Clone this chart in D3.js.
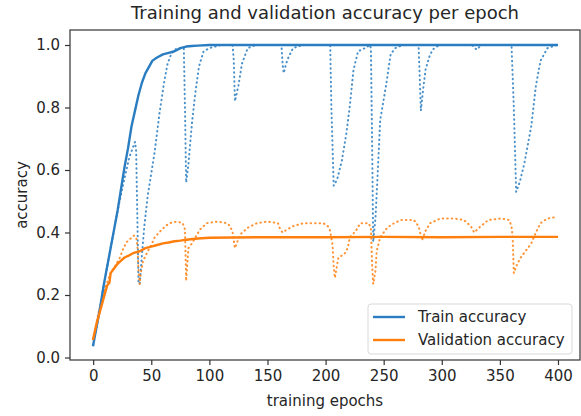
<!DOCTYPE html>
<html>
<head>
<meta charset="utf-8">
<script src="https://cdn.jsdelivr.net/npm/d3@7"></script>
<style>
  body { margin: 0; background: #fff; }
  text { font-family: "DejaVu Sans", sans-serif; fill: #262626; }
</style>
</head>
<body>
<div id="vis"></div>
<script>
// smoothed train accuracy (solid blue)
const trainEpochs = [0, 3, 6, 9, 12, 15, 18, 21, 24, 27, 30, 33, 36, 39, 42, 45, 48, 51, 55, 60, 65, 70, 75, 80, 85, 90, 100, 120, 150, 200, 250, 300, 350, 399];
const trainAcc = [0.04, 0.10, 0.16, 0.23, 0.29, 0.35, 0.41, 0.47, 0.54, 0.61, 0.67, 0.74, 0.79, 0.84, 0.88, 0.91, 0.93, 0.95, 0.96, 0.97, 0.975, 0.98, 0.99, 0.995, 0.997, 0.998, 1.0, 1.0, 1.0, 1.0, 1.0, 1.0, 1.0, 1.0];

// raw train accuracy (dotted blue)
const trainRawEpochs = [0, 5, 10, 15, 20, 25, 28, 31, 34, 36, 37, 38, 39, 40, 42, 44, 47, 50, 53, 57, 61, 64, 67, 70, 74, 78, 79, 80, 82, 85, 88, 91, 95, 100, 110, 120, 121, 122, 125, 128, 133, 140, 162, 163, 164, 166, 168, 172, 180, 204, 205, 207, 210, 214, 218, 221, 224, 228, 234, 238, 239, 240, 241, 243, 245, 247, 252, 256, 260, 266, 280, 281, 282, 284, 286, 289, 292, 298, 326, 330, 334, 360, 362, 364, 367, 371, 374, 377, 381, 385, 391, 395, 399];
const trainRawAcc = [0.04, 0.14, 0.25, 0.35, 0.45, 0.54, 0.59, 0.64, 0.67, 0.69, 0.66, 0.45, 0.24, 0.235, 0.33, 0.42, 0.52, 0.59, 0.66, 0.78, 0.88, 0.94, 0.97, 0.985, 0.99, 0.99, 0.8, 0.56, 0.62, 0.75, 0.85, 0.93, 0.98, 0.99, 1.0, 1.0, 0.95, 0.82, 0.87, 0.94, 0.99, 1.0, 1.0, 0.94, 0.91, 0.94, 0.96, 0.99, 1.0, 1.0, 0.8, 0.55, 0.57, 0.63, 0.72, 0.81, 0.92, 0.98, 0.99, 1.0, 0.99, 0.7, 0.37, 0.45, 0.6, 0.76, 0.87, 0.97, 0.99, 1.0, 1.0, 0.9, 0.79, 0.86, 0.92, 0.96, 0.985, 1.0, 1.0, 0.985, 1.0, 1.0, 0.8, 0.53, 0.56, 0.62, 0.68, 0.74, 0.87, 0.95, 0.99, 0.995, 1.0];

// smoothed validation accuracy (solid orange)
const valEpochs = [0, 3, 6, 9, 12, 14, 15, 17, 21, 24, 27, 30, 35, 40, 45, 50, 55, 60, 65, 70, 75, 80, 90, 100, 120, 150, 200, 250, 300, 350, 399];
const valAcc = [0.06, 0.11, 0.15, 0.19, 0.23, 0.24, 0.27, 0.28, 0.30, 0.31, 0.32, 0.325, 0.335, 0.34, 0.35, 0.355, 0.36, 0.365, 0.368, 0.372, 0.374, 0.377, 0.381, 0.383, 0.384, 0.385, 0.385, 0.386, 0.385, 0.386, 0.386];

// raw validation accuracy (dotted orange)
const valRawEpochs = [0, 5, 10, 15, 20, 23, 26, 29, 32, 35, 37, 38, 39, 40, 41, 43, 47, 50, 53, 58, 62, 66, 72, 77, 79, 80, 81, 82, 85, 88, 92, 98, 107, 115, 118, 120, 122, 124, 127, 133, 141, 150, 159, 161, 163, 165, 167, 172, 181, 190, 198, 202, 204, 206, 207, 208, 211, 216, 219, 221, 226, 230, 237, 239, 240, 241, 243, 244, 247, 253, 259, 265, 276, 280, 283, 286, 290, 299, 310, 319, 325, 328, 332, 340, 351, 358, 360, 361, 362, 365, 368, 372, 377, 381, 385, 391, 399];
const valRawAcc = [0.06, 0.15, 0.22, 0.27, 0.30, 0.32, 0.35, 0.37, 0.38, 0.39, 0.385, 0.36, 0.28, 0.235, 0.27, 0.31, 0.34, 0.36, 0.385, 0.405, 0.42, 0.43, 0.435, 0.43, 0.41, 0.245, 0.3, 0.35, 0.365, 0.385, 0.41, 0.43, 0.435, 0.43, 0.42, 0.40, 0.35, 0.37, 0.395, 0.415, 0.43, 0.435, 0.43, 0.41, 0.40, 0.405, 0.41, 0.42, 0.43, 0.43, 0.43, 0.42, 0.405, 0.36, 0.29, 0.255, 0.32, 0.33, 0.35, 0.385, 0.405, 0.43, 0.43, 0.415, 0.30, 0.235, 0.28, 0.34, 0.385, 0.415, 0.43, 0.44, 0.44, 0.42, 0.375, 0.405, 0.43, 0.445, 0.445, 0.44, 0.42, 0.40, 0.415, 0.44, 0.445, 0.44, 0.42, 0.385, 0.27, 0.30, 0.32, 0.34, 0.365, 0.40, 0.43, 0.445, 0.45];

const xTicks = [0, 50, 100, 150, 200, 250, 300, 350, 400];
const yTicks = [0.0, 0.2, 0.4, 0.6, 0.8, 1.0];
const legendLabels = ["Train accuracy", "Validation accuracy"];

const BLUE = "#2a7dc0";
const ORANGE = "#ff7f0e";
const WIDTH = 581;
const HEIGHT = 416;
const MARGIN = { LEFT: 70, RIGHT: 1, TOP: 30, BOTTOM: 56 };

const svg = d3
  .select("#vis")
  .append("svg")
  .attr("width", WIDTH)
  .attr("height", HEIGHT);

const xScale = d3
  .scaleLinear()
  .domain([-19.95, 418.95])
  .range([MARGIN.LEFT, WIDTH - MARGIN.RIGHT]);

const yScale = d3
  .scaleLinear()
  .domain([-0.008, 1.048])
  .range([HEIGHT - MARGIN.BOTTOM, MARGIN.TOP]);

svg
  .append("clipPath")
  .attr("id", "clip")
  .append("rect")
  .attr("x", MARGIN.LEFT)
  .attr("y", MARGIN.TOP)
  .attr("width", WIDTH - MARGIN.RIGHT - MARGIN.LEFT)
  .attr("height", HEIGHT - MARGIN.BOTTOM - MARGIN.TOP);

const line = d3
  .line()
  .x((d) => xScale(d[0]))
  .y((d) => yScale(d[1]));

function drawSeries(epochs, values, color, dotted) {
  const pts = epochs.map((e, i) => [e, values[i]]);
  svg
    .append("path")
    .datum(pts)
    .attr("clip-path", "url(#clip)")
    .attr("d", line)
    .attr("fill", "none")
    .attr("stroke", color)
    .attr("stroke-width", dotted ? 2 : 2.4)
    .attr("stroke-linecap", dotted ? "round" : "square")
    .attr("stroke-linejoin", "round")
    .attr("stroke-dasharray", dotted ? "0.5,4" : null)
    .attr("opacity", dotted ? 0.85 : 1);
}

drawSeries(trainRawEpochs, trainRawAcc, BLUE, true);
drawSeries(valRawEpochs, valRawAcc, ORANGE, true);
drawSeries(trainEpochs, trainAcc, BLUE, false);
drawSeries(valEpochs, valAcc, ORANGE, false);

// axes
const xAxis = svg
  .append("g")
  .attr("transform", `translate(0, ${HEIGHT - MARGIN.BOTTOM})`)
  .call(d3.axisBottom(xScale).tickValues(xTicks).tickSize(5).tickPadding(5).tickFormat(d3.format("d")));

const yAxis = svg
  .append("g")
  .attr("transform", `translate(${MARGIN.LEFT}, 0)`)
  .call(d3.axisLeft(yScale).tickValues(yTicks).tickSize(5).tickPadding(5).tickFormat(d3.format(".1f")));

[xAxis, yAxis].forEach((ax) => {
  ax.select(".domain").remove();
  ax.selectAll("line").attr("stroke", "#333").attr("stroke-width", 1.2);
  ax.selectAll("text").style("font-size", "15px").attr("fill", "#262626");
});

// frame
svg
  .append("rect")
  .attr("x", MARGIN.LEFT)
  .attr("y", MARGIN.TOP)
  .attr("width", WIDTH - MARGIN.RIGHT - MARGIN.LEFT)
  .attr("height", HEIGHT - MARGIN.BOTTOM - MARGIN.TOP)
  .attr("fill", "none")
  .attr("stroke", "#333")
  .attr("stroke-width", 1.2);

// title and labels
svg
  .append("text")
  .attr("x", (MARGIN.LEFT + WIDTH - MARGIN.RIGHT) / 2)
  .attr("y", 19)
  .attr("text-anchor", "middle")
  .style("font-size", "18px")
  .text("Training and validation accuracy per epoch");

svg
  .append("text")
  .attr("x", (MARGIN.LEFT + WIDTH - MARGIN.RIGHT) / 2)
  .attr("y", 406)
  .attr("text-anchor", "middle")
  .style("font-size", "15px")
  .text("training epochs");

svg
  .append("text")
  .attr("transform", `translate(27, ${(MARGIN.TOP + HEIGHT - MARGIN.BOTTOM) / 2}) rotate(-90)`)
  .attr("text-anchor", "middle")
  .style("font-size", "15px")
  .text("accuracy");

// legend
const legend = svg.append("g").attr("transform", "translate(368, 304)");
legend
  .append("rect")
  .attr("width", 204)
  .attr("height", 50)
  .attr("rx", 3)
  .attr("fill", "#fff")
  .attr("fill-opacity", 0.8)
  .attr("stroke", "#d9d9d9");

[BLUE, ORANGE].forEach((c, i) => {
  legend
    .append("line")
    .attr("x1", 5)
    .attr("x2", 37)
    .attr("y1", 13 + i * 23)
    .attr("y2", 13 + i * 23)
    .attr("stroke", c)
    .attr("stroke-width", 2.4);
  legend
    .append("text")
    .attr("x", 50)
    .attr("y", 18 + i * 23)
    .style("font-size", "15px")
    .text(legendLabels[i]);
});
</script>
</body>
</html>
